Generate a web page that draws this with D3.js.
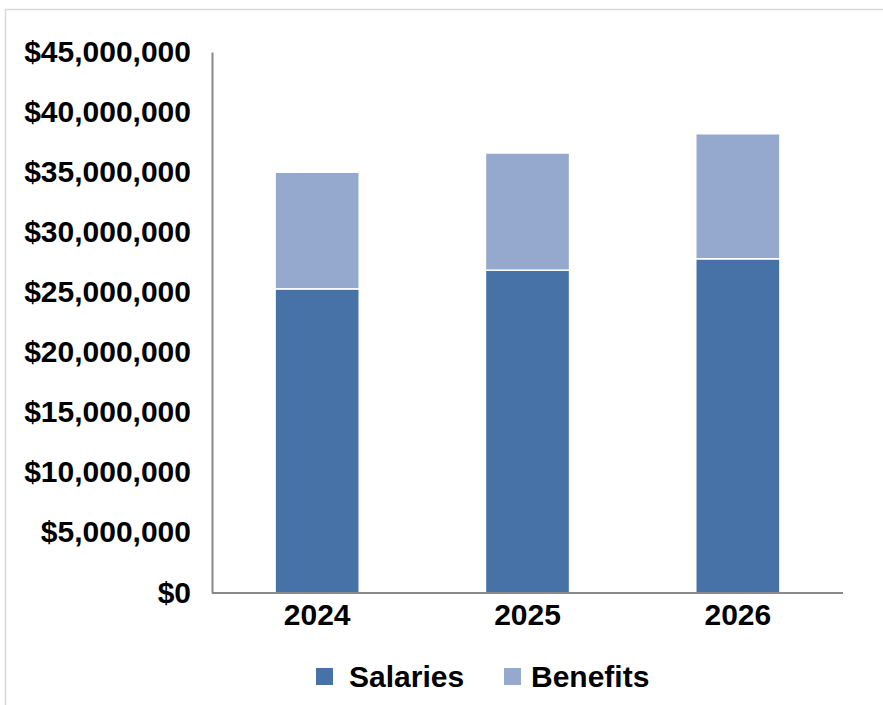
<!DOCTYPE html>
<html>
<head>
<meta charset="utf-8">
<script src="https://cdn.jsdelivr.net/npm/d3@7"></script>
<style>
  body { margin: 0; background: #fff; }
  svg text { font-family: "Liberation Sans", Arial, sans-serif; font-weight: bold; fill: #000; }
</style>
</head>
<body>
<svg id="chart" width="883" height="705"></svg>
<script>
var years = ["2024", "2025", "2026"]
var salaries = [25300000, 26850000, 27800000]
var benefits = [9700000, 9750000, 10400000]
var seriesNames = ["Salaries", "Benefits"]
var seriesColors = ["#4672a8", "#95a9cf"]
var yTicks = [0, 5000000, 10000000, 15000000, 20000000, 25000000, 30000000, 35000000, 40000000, 45000000]

var width = 883, height = 705
var margin = { top: 52, right: 40, bottom: 112, left: 212 }

var svg = d3.select("#chart")

// outer frame
svg.append("path")
    .attr("d", "M5.5," + height + " V9.5 H" + width)
    .attr("fill", "none")
    .attr("stroke", "#d9d9d9")
    .attr("stroke-width", 1.5)

var table = years.map(function (y, i) {
  return { year: y, Salaries: salaries[i], Benefits: benefits[i] }
})

var stacked = d3.stack().keys(seriesNames)(table)

var x = d3.scaleBand()
    .domain(years)
    .range([margin.left, width - margin.right])
    .paddingInner(0.6)
    .paddingOuter(0.3)

var y = d3.scaleLinear()
    .domain([0, 45000000])
    .range([height - margin.bottom, margin.top])

var fmt = function (d) { return "$" + d3.format(",")(d) }

// bars
svg.append("g")
  .selectAll("g")
  .data(stacked)
  .join("g")
    .attr("fill", function (d, i) { return seriesColors[i] })
  .selectAll("rect")
  .data(function (d) { return d })
  .join("rect")
    .attr("x", function (d) { return x(d.data.year) })
    .attr("y", function (d) { return y(d[1]) })
    .attr("width", x.bandwidth())
    .attr("height", function (d) { return y(d[0]) - y(d[1]) })
    .attr("stroke", "#fff")
    .attr("stroke-width", 1.5)

// y axis
var yAxis = svg.append("g")
    .attr("transform", "translate(" + margin.left + ",0)")
    .call(d3.axisLeft(y).tickValues(yTicks).tickFormat(fmt).tickSize(0).tickPadding(21))
yAxis.select(".domain").attr("stroke", "#898989").attr("stroke-width", 2)
yAxis.selectAll("text").attr("font-size", 30).attr("font-family", null).attr("dy", "0.3em")

// x axis
var xAxis = svg.append("g")
    .attr("transform", "translate(0," + (height - margin.bottom) + ")")
    .call(d3.axisBottom(x).tickSize(0).tickPadding(11))
xAxis.select(".domain")
    .attr("d", "M" + margin.left + ",0H" + (width - margin.right))
    .attr("stroke", "#898989").attr("stroke-width", 2)
xAxis.selectAll("text").attr("font-size", 30).attr("font-family", null)

// legend
var legendX = [316, 504]
var legend = svg.append("g")
  .selectAll("g")
  .data(seriesNames)
  .join("g")
    .attr("transform", function (d, i) { return "translate(" + legendX[i] + ",668)" })
legend.append("rect")
    .attr("width", 17).attr("height", 17)
    .attr("fill", function (d, i) { return seriesColors[i] })
legend.append("text")
    .attr("x", function (d, i) { return i === 0 ? 33 : 27 })
    .attr("y", 19)
    .attr("font-size", 30)
    .text(function (d) { return d })
</script>
</body>
</html>
